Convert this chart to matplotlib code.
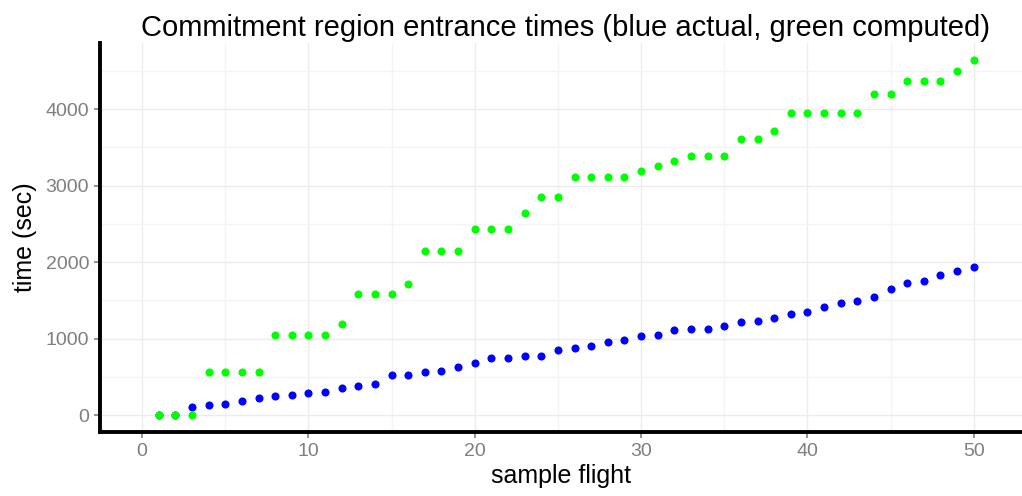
"""
Commitment region entrance times: actual vs computed, per sample flight.
"""

import matplotlib
import matplotlib.pyplot as plt
from matplotlib.ticker import MultipleLocator

matplotlib.use('Agg')

# data
flights = list(range(1, 51))

actual_sec = [0, 0, 100, 131, 140, 183, 226, 244, 261, 283,
              305, 353, 379, 405, 518, 518, 566, 579, 632, 680,
              741, 749, 771, 771, 845, 880, 906, 950, 976, 1037,
              1050, 1107, 1120, 1130, 1159, 1220, 1224, 1264, 1325, 1346,
              1416, 1460, 1490, 1538, 1643, 1730, 1752, 1830, 1887, 1935]

computed_sec = [0, 0, 0, 566, 566, 566, 566, 1046, 1046, 1046,
                1046, 1196, 1582, 1582, 1582, 1708, 2144, 2144, 2144, 2436,
                2436, 2436, 2636, 2854, 2854, 3115, 3115, 3115, 3115, 3193,
                3259, 3316, 3390, 3390, 3390, 3608, 3608, 3708, 3956, 3956,
                3956, 3956, 3956, 4196, 4196, 4366, 4366, 4366, 4497, 4637]


def plot_entrance_times():
    plt.rcParams['font.family'] = ['Liberation Sans', 'DejaVu Sans']

    fig = plt.figure(figsize=(10.22, 4.96), dpi=100)
    ax = fig.add_axes([0.098, 0.129, 0.902, 0.784])

    ax.scatter(flights, actual_sec, s=34, color="#0000ff", zorder=3, linewidths=0)
    ax.scatter(flights, computed_sec, s=34, color="#00ff00", zorder=4, linewidths=0)

    ax.set_xlim(-2.52, 52.9)
    ax.set_ylim(-222, 4863)

    ax.xaxis.set_major_locator(MultipleLocator(10))
    ax.xaxis.set_minor_locator(MultipleLocator(5))
    ax.yaxis.set_major_locator(MultipleLocator(1000))
    ax.yaxis.set_minor_locator(MultipleLocator(500))

    ax.grid(which="major", color="#ececec", linewidth=1.0, zorder=0)
    ax.grid(which="minor", color="#f4f4f4", linewidth=1.0, zorder=0)
    ax.set_axisbelow(True)

    for side in ("top", "right"):
        ax.spines[side].set_visible(False)
    for side in ("left", "bottom"):
        ax.spines[side].set_linewidth(2.8)
        ax.spines[side].set_color("black")

    ax.tick_params(which="major", length=4, width=1.2, color="#7f7f7f",
                   labelcolor="#7f7f7f", labelsize=14, pad=4)
    ax.tick_params(which="minor", length=0)

    ax.set_title("Commitment region entrance times (blue actual, green computed)",
                 fontsize=21, color="black", x=0.505, pad=5)
    ax.set_xlabel("sample flight", fontsize=18, labelpad=3)
    ax.set_ylabel("time (sec)", fontsize=18, labelpad=6)

    fig.savefig("out.png", dpi=100)


if __name__ == "__main__":
    plot_entrance_times()
